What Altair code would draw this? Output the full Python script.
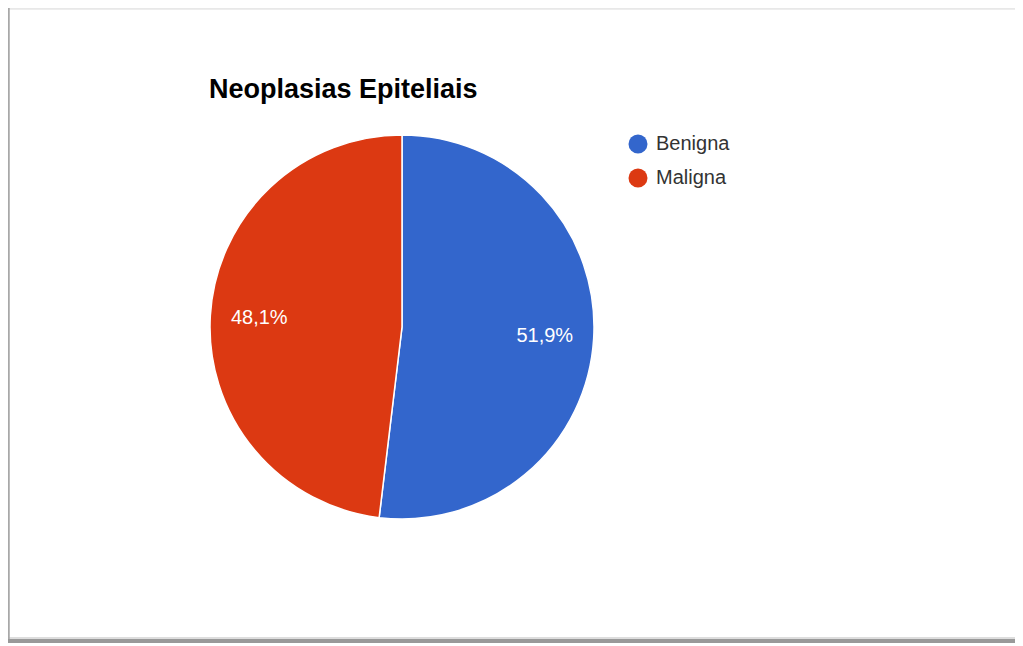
import altair as alt
import pandas as pd

categories = ["Benigna", "Maligna"]
values = [51.9, 48.1]
labels = ["51,9%", "48,1%"]
colors = ["#3366CC", "#DC3912"]
title_text = "Neoplasias Epiteliais"

df = pd.DataFrame({"cat": categories, "val": values, "lab": labels, "ord": [0, 1]})

CX, CY, R = 394, 319, 192

base = alt.Chart(df).encode(
    theta=alt.Theta("val:Q", stack=True),
    order=alt.Order("ord:Q"),
)

pie = base.mark_arc(stroke="white", strokeWidth=1.5).encode(
    color=alt.Color(
        "cat:N",
        scale=alt.Scale(domain=categories, range=colors),
        legend=alt.Legend(
            title=None,
            orient="none",
            legendX=620,
            legendY=126,
            symbolType="circle",
            symbolSize=360,
            symbolStrokeWidth=0,
            labelFontSize=20,
            labelFont="Arial",
            labelColor="#333333",
            labelOffset=8,
            rowPadding=14,
        ),
    ),
    x=alt.value(CX),
    y=alt.value(CY),
    radius=alt.value(R),
)

text = base.mark_text(
    color="white", fontSize=20, font="Arial"
).encode(
    text="lab:N",
    x=alt.value(CX),
    y=alt.value(CY),
    radius=alt.value(143),
)

title = alt.Chart(pd.DataFrame({"t": [title_text]})).mark_text(
    align="left", baseline="alphabetic", fontSize=27, fontWeight="bold", font="Arial", color="#000000"
).encode(text="t:N", x=alt.value(201), y=alt.value(90))

frame_left = alt.Chart(df).mark_rule(color="#a8a8a8", strokeWidth=3).encode(
    x=alt.value(0), y=alt.value(0), y2=alt.value(634)
)
frame_bottom = alt.Chart(df).mark_rule(color="#999999", strokeWidth=4).encode(
    x=alt.value(0), x2=alt.value(1007), y=alt.value(633)
)
frame_bottom_shadow = alt.Chart(df).mark_rule(color="#dddddd", strokeWidth=2).encode(
    x=alt.value(0), x2=alt.value(1007), y=alt.value(630)
)
frame_top = alt.Chart(df).mark_rule(color="#e8e8e8", strokeWidth=3).encode(
    x=alt.value(0), x2=alt.value(1007), y=alt.value(0)
)

chart = alt.layer(
    frame_top, frame_bottom_shadow, frame_left, frame_bottom, pie, text, title
).properties(
    width=1007, height=636, padding=0, autosize=alt.AutoSizeParams(type="none")
).configure_view(stroke=None)

chart.save("out.html", embed_options={"renderer": "svg", "actions": False})
